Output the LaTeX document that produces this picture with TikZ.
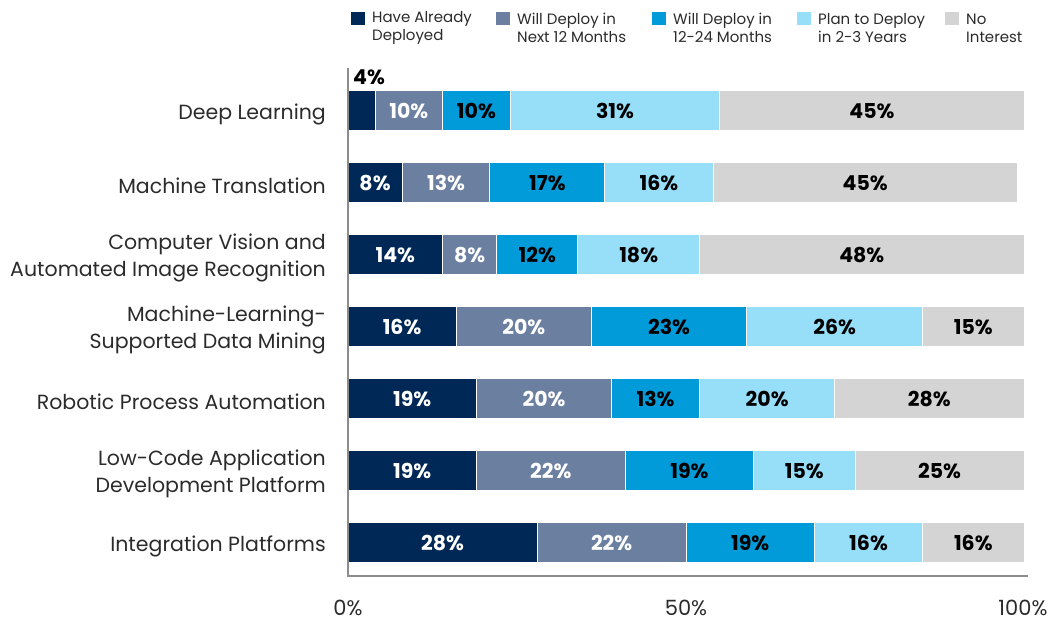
\documentclass[tikz,border=0pt]{standalone}
\usepackage{fontspec}
\setmainfont{Poppins}
\usepackage{tikz}
\definecolor{deployed}{HTML}{002856}
\definecolor{nextyear}{HTML}{6B7FA1}
\definecolor{twoyear}{HTML}{009BD8}
\definecolor{laterplan}{HTML}{97DEF9}
\definecolor{nointerest}{HTML}{D4D4D4}
\definecolor{labelgray}{HTML}{2B2B2B}
\tikzset{
  seg/.style={draw=white, line width=1pt},
  catlabel/.style={anchor=east, align=right, text=labelgray, inner sep=0pt,
    font=\fontsize{20.5}{27}\selectfont},
  pctwhite/.style={text=white, font=\fontsize{20.5}{22}\selectfont\bfseries},
  pctblack/.style={text=black, font=\fontsize{20.5}{22}\selectfont\bfseries},
  legtext/.style={anchor=west, align=left, text=labelgray, inner sep=0pt,
    font=\fontsize{15}{18}\selectfont},
  ticklabel/.style={text=labelgray, font=\fontsize{21}{22}\selectfont},
  axisline/.style={draw=black!45, line width=1.2pt}
}

\begin{document}
\begin{tikzpicture}[x=1pt,y=-1pt]
\useasboundingbox (0,0) rectangle (1056,622);

% legend
\foreach \j/\col/\txt/\lx in {0/deployed/{Have Already\\Deployed}/351,
  1/nextyear/{Will Deploy in\\Next 12 Months}/496,
  2/twoyear/{Will Deploy in\\12-24 Months}/652,
  3/laterplan/{Plan to Deploy\\in 2-3 Years}/797,
  4/nointerest/{No\\Interest}/945}
{
\fill[\col] (\lx,12) rectangle ++(14,13);
\node[legtext] (leg\j) at (\lx+21,28) {\txt};
}

% bars
\foreach \i/\cat/\a/\b/\c/\d/\e in {0/{Deep Learning}/4/10/10/31/45,
  1/{Machine Translation}/8/13/17/16/45,
  2/{Computer Vision and\\Automated Image Recognition}/14/8/12/18/48,
  3/{Machine-Learning-\\Supported Data Mining}/16/20/23/26/15,
  4/{Robotic Process Automation}/19/20/13/20/28,
  5/{Low-Code Application\\Development Platform}/19/22/19/15/25,
  6/{Integration Platforms}/28/22/19/16/16}
{
\pgfmathsetmacro{\yc}{110+72*\i}
\pgfmathsetmacro{\xa}{348+6.76*\a}
\pgfmathsetmacro{\xb}{\xa+6.76*\b}
\pgfmathsetmacro{\xc}{\xb+6.76*\c}
\pgfmathsetmacro{\xd}{\xc+6.76*\d}
\pgfmathsetmacro{\xe}{min(\xd+6.76*\e,1024)}
\node[catlabel] (cat\i) at (326,\yc+4) {\cat};
\draw[seg, fill=deployed] (348,\yc-20) rectangle (\xa,\yc+20);
\draw[seg, fill=nextyear] (\xa,\yc-20) rectangle (\xb,\yc+20);
\draw[seg, fill=twoyear] (\xb,\yc-20) rectangle (\xc,\yc+20);
\draw[seg, fill=laterplan] (\xc,\yc-20) rectangle (\xd,\yc+20);
\draw[seg, fill=nointerest] (\xd,\yc-20) rectangle (\xe,\yc+20);
\ifnum\a<5
\node[pctblack] (pa\i) at (369,\yc-33) {\a\%};
\else
\node[pctwhite] (pa\i) at ({(348+\xa)/2},\yc+1) {\a\%};
\fi
\node[pctwhite] (pb\i) at ({(\xa+\xb)/2},\yc+1) {\b\%};
\node[pctblack] (pc\i) at ({(\xb+\xc)/2},\yc+1) {\c\%};
\node[pctblack] (pd\i) at ({(\xc+\xd)/2},\yc+1) {\d\%};
\node[pctblack] (pe\i) at ({(\xd+\xe)/2},\yc+1) {\e\%};
}

% axes
\draw[axisline] (348,68) -- (348,576) -- (1028,576);
\node[ticklabel] (t0) at (348,608) {0\%};
\node[ticklabel] (t50) at (686,608) {50\%};
\node[ticklabel] (t100) at (1023,608) {100\%};
\end{tikzpicture}
\end{document}
